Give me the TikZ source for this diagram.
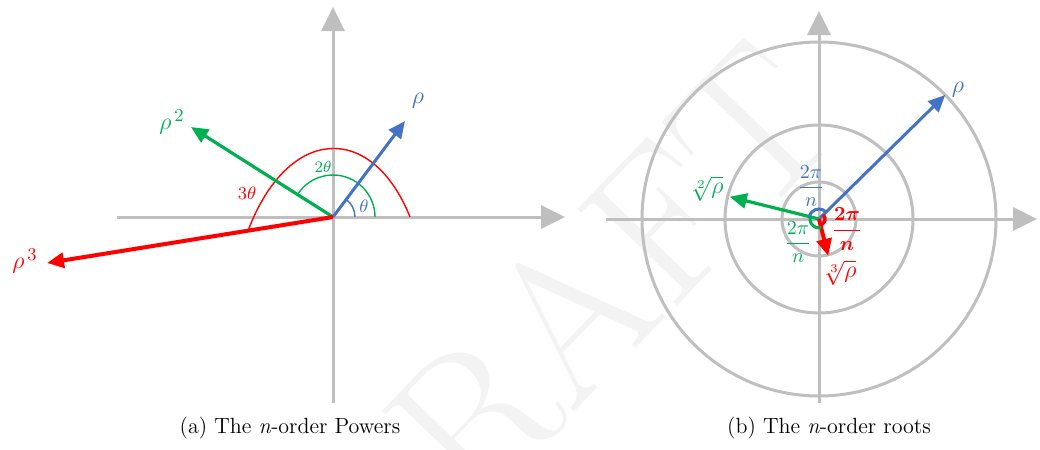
\documentclass[tikz,border=0pt]{standalone}
\usepackage{amsmath}
\usetikzlibrary{arrows.meta,calc}
\definecolor{axgray}{HTML}{BFBFBF}
\definecolor{vblue}{HTML}{4472C4}
\definecolor{vgreen}{HTML}{00B050}
\definecolor{vred}{HTML}{FF0000}
\definecolor{wmark}{HTML}{F3F3F3}
\begin{document}
\begin{tikzpicture}[x=0.5pt,y=0.5pt,
  axis/.style={draw=axgray,line width=1.5pt,-{Triangle[length=12pt,width=11.5pt]}},
  ring/.style={draw=axgray,line width=1.5pt},
  bvec/.style={draw=vblue,line width=1.5pt,-{Triangle[length=8.5pt,width=7.5pt]}},
  gvec/.style={draw=vgreen,line width=1.6pt,-{Triangle[length=8.5pt,width=7.5pt]}},
  rvec/.style={draw=vred,line width=2pt,-{Triangle[length=8.5pt,width=7.5pt]}},
  thinarc/.style={line width=0.7pt},
  lbl/.style={inner sep=0pt,font=\fontsize{13}{15}\selectfont},
  caption/.style={inner sep=0pt,font=\fontsize{11}{13}\selectfont}]
\useasboundingbox (0,0) rectangle (1040,-450);
% watermark
\node[rotate=46,text=wmark,inner sep=0pt,font=\fontsize{102}{102}\selectfont] (wm) at (562,-324) {DRAFT};

% ---------------- left panel ----------------
\coordinate (O1) at (333,-217);
\coordinate (X1l) at (117,-217);
\coordinate (X1r) at (565,-217);
\coordinate (Y1b) at (333,-403);
\coordinate (Y1t) at (333,-7);
\draw[axis] (X1l) -- (X1r);
\draw[axis] (Y1b) -- (Y1t);

\coordinate (P1) at (405,-121);
\coordinate (P2) at (191,-127);
\coordinate (P3) at (47,-263);

% angle arcs
\draw[thinarc,draw=vblue] ([shift={(0:22)}]O1) arc[start angle=0,end angle=53,radius=22];
\draw[thinarc,draw=vgreen] ([shift={(0:42)}]O1) arc[start angle=0,end angle=147.6,radius=42];
\coordinate (R3a) at (410,-217);
\coordinate (R3b) at ($(O1)!0.297!(P3)$);
\draw[thinarc,draw=vred] (R3a) .. controls (372,-122) and (288,-125) .. (R3b);

\draw[bvec] (O1) -- (P1);
\draw[gvec] (O1) -- (P2);
\draw[rvec] (O1) -- (P3);

\node[lbl,text=vblue] (l1) at (418,-101) {$\rho$};
\node[lbl,text=vgreen] (l2) at (172,-122) {$\rho^{\,2}$};
\node[lbl,text=vred] (l3) at (25,-261) {$\rho^{\,3}$};
\node[inner sep=0pt,text=vblue,font=\fontsize{9}{10}\selectfont] (th1) at (364,-206) {$\theta$};
\node[inner sep=0pt,text=vgreen,font=\fontsize{8}{9}\selectfont] (th2) at (323,-167) {$2\theta$};
\node[inner sep=0pt,text=vred,font=\fontsize{9}{10}\selectfont] (th3) at (247,-193) {$3\theta$};

\node[caption] (capa) at (290,-428) {(a) The \textit{n}-order Powers};

% ---------------- right panel ----------------
\coordinate (O2) at (819,-219);
\coordinate (X2l) at (606,-219);
\coordinate (X2r) at (1037,-219);
\coordinate (Y2b) at (819,-403);
\coordinate (Y2t) at (819,-11);
\draw[axis] (X2l) -- (X2r);
\draw[axis] (Y2b) -- (Y2t);
\draw[ring] (O2) circle[radius=177];
\draw[ring] (O2) circle[radius=94];
\draw[ring] (O2) circle[radius=37];

\coordinate (Q1) at ([shift={(44.5:177)}]O2);
\coordinate (Q2) at ([shift={(166:92)}]O2);
\coordinate (Q3) at ([shift={(-76:38)}]O2);

\draw[bvec] (O2) -- (Q1);
\draw[gvec] (O2) -- (Q2);
\draw[rvec] (O2) -- (Q3);

\draw[draw=vblue,line width=1.5pt] ([shift={(44.5:10)}]O2) arc[start angle=44.5,end angle=166,radius=10];
\draw[draw=vgreen,line width=1.5pt] ([shift={(166:9)}]O2) arc[start angle=166,end angle=284,radius=9];
\draw[draw=vred,line width=1.7pt] ([shift={(284:6)}]O2) arc[start angle=284,end angle=404.5,radius=6];

\node[lbl,text=vblue] (m1) at (958,-90) {$\rho$};
\node[inner sep=0pt,text=vgreen,font=\fontsize{12}{14}\selectfont] (m2) at (707,-189) {$\sqrt[2]{\rho}$};
\node[inner sep=0pt,text=vred,font=\fontsize{12}{14}\selectfont] (m3) at (840,-273) {$\sqrt[3]{\rho}$};
\node[inner sep=0pt,text=vblue,font=\fontsize{10}{12}\selectfont] (f1) at (811,-186) {$\dfrac{2\pi}{n}$};
\node[inner sep=0pt,text=vgreen,font=\fontsize{10}{12}\selectfont] (f2) at (798,-242) {$\dfrac{2\pi}{n}$};
\node[inner sep=0pt,text=vred,font=\fontsize{10}{12}\selectfont\boldmath] (f3) at (847,-229) {$\dfrac{2\pi}{n}$};

\node[caption] (capb) at (829,-428) {(b) The \textit{n}-order roots};
\end{tikzpicture}
\end{document}
